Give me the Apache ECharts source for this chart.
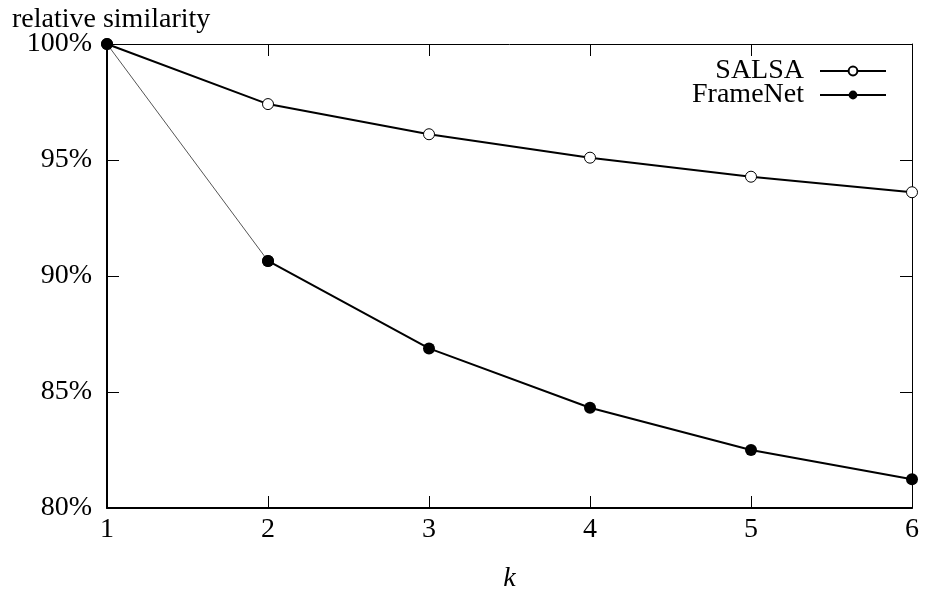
<!DOCTYPE html>
<html>
<head>
    <meta charset="utf-8" />
    <title>relative similarity vs k</title>
    <script src="https://cdn.jsdelivr.net/npm/echarts@6/dist/echarts.min.js"></script>
    <style>
        html, body { margin: 0; padding: 0; background: #fff; }
        #main { width: 928px; height: 591px; }
    </style>
</head>
<body>
    <div id="main"></div>
    <script type="text/javascript">
        // data
        const kValues = [1, 2, 3, 4, 5, 6];
        const salsa = [100, 97.41, 96.11, 95.1, 94.28, 93.61];
        const frameNet = [100, 90.65, 86.88, 84.32, 82.5, 81.24];
        const yTicks = { min: 80, max: 100, step: 5 };

        const FONT = 'Liberation Serif';
        const FS = 28;
        const pairs = (vals) => vals.map((v, i) => [kValues[i], v]);

        var chart = echarts.init(document.getElementById('main'), null, { renderer: 'canvas' });

        // shared look for the mirrored frame axes (top / right)
        const frameAxis = (extra) => Object.assign({
            axisLine: { show: true, onZero: false, lineStyle: { color: '#000', width: 1 } },
            axisTick: { show: true, inside: true, length: 12, lineStyle: { color: '#000', width: 1 } },
            axisLabel: { show: false },
            splitLine: { show: false }
        }, extra);

        var option = {
            animation: false,
            backgroundColor: '#fff',
            title: {
                text: 'relative similarity',
                left: 7, top: 1,
                textStyle: { fontFamily: FONT, fontSize: FS, fontWeight: 'normal', color: '#000' }
            },
            grid: { left: 107, right: 16, top: 44, bottom: 83, outerBoundsMode: 'none' },
            legend: {
                orient: 'vertical',
                right: 41, top: 57,
                padding: 0,
                align: 'right',
                itemWidth: 66, itemHeight: 11, itemGap: -4,
                data: ['SALSA', 'FrameNet'],
                textStyle: { fontFamily: FONT, fontSize: FS, color: '#000', padding: [0, 11, 0, 0] }
            },
            xAxis: [{
                type: 'value', min: 1, max: 6, interval: 1,
                name: 'k', nameLocation: 'middle', nameGap: 57,
                nameTextStyle: { fontFamily: FONT, fontSize: FS, fontStyle: 'italic', color: '#000' },
                axisLine: { onZero: false, lineStyle: { color: '#000', width: 2 } },
                axisTick: { inside: true, length: 12, lineStyle: { color: '#000', width: 1 } },
                axisLabel: { margin: 8, fontFamily: FONT, fontSize: FS, color: '#000' },
                splitLine: { show: false }
            }, frameAxis({ type: 'value', position: 'top', min: 1, max: 6, interval: 1 })],
            yAxis: [{
                type: 'value', min: yTicks.min, max: yTicks.max, interval: yTicks.step,
                axisLine: { show: true, onZero: false, lineStyle: { color: '#000', width: 2 } },
                axisTick: { show: true, inside: true, length: 12, lineStyle: { color: '#000', width: 1 } },
                axisLabel: { margin: 15, fontFamily: FONT, fontSize: FS, color: '#000', formatter: '{value}%' },
                splitLine: { show: false }
            }, frameAxis({ type: 'value', position: 'right', min: yTicks.min, max: yTicks.max, interval: yTicks.step })],
            series: [{
                name: 'SALSA',
                type: 'line',
                data: pairs(salsa),
                symbol: 'circle', symbolSize: 11,
                itemStyle: { color: '#fff', borderColor: '#000', borderWidth: 1 },
                lineStyle: { color: '#000', width: 2 },
                z: 3
            }, {
                name: 'FrameNet',
                type: 'line',
                data: pairs(frameNet).slice(1),
                symbol: 'circle', symbolSize: 12,
                itemStyle: { color: '#000', borderColor: '#000', borderWidth: 0 },
                lineStyle: { color: '#000', width: 2 },
                z: 5
            }, {
                // the first FrameNet segment is a thin grey line in the original
                name: 'FrameNet',
                type: 'line',
                data: pairs(frameNet).slice(0, 2),
                symbol: 'circle', symbolSize: 12,
                itemStyle: { color: '#000', borderColor: '#000', borderWidth: 0 },
                lineStyle: { color: '#555', width: 1 },
                z: 4
            }]
        };

        chart.setOption(option);
    </script>
</body>
</html>
